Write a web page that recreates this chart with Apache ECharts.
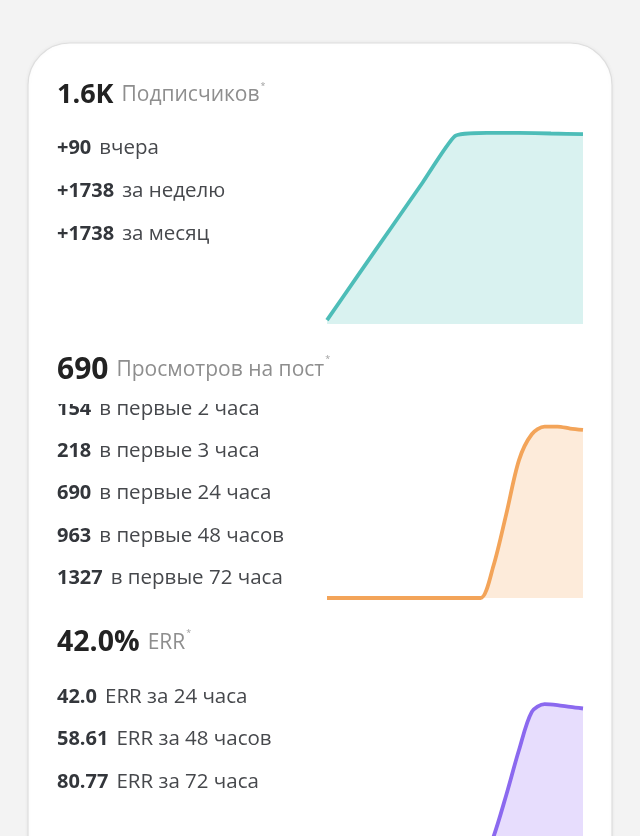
<!DOCTYPE html>
<html><head><meta charset="utf-8">
<script src="https://cdn.jsdelivr.net/npm/echarts@6/dist/echarts.min.js"></script>
<style>html,body{margin:0;padding:0;background:#f3f3f3;overflow:hidden;width:640px;height:836px}#c{width:640px;height:900px}</style>
</head><body><div id="c"></div>
<script>
// ---- data ----
const subsHeaderValue = '1.6K';
const subsHeaderLabel = 'Подписчиков';
const subsNums = ['+90', '+1738', '+1738'];
const subsLabels = ['вчера', 'за неделю', 'за месяц'];
const subsX = ['1', '2', '3', '4', '5', '6', '7', '8', '9'];
const subsSeries = [2, 25.8, 49.5, 73.2, 96.9, 98.5, 98.5, 98.2, 97.9];

const viewsHeaderValue = '690';
const viewsHeaderLabel = 'Просмотров на пост';
const viewsNums = ['154', '218', '690', '963', '1327'];
const viewsLabels = ['в первые 2 часа', 'в первые 3 часа', 'в первые 24 часа', 'в первые 48 часов', 'в первые 72 часа'];
const viewsX = ['1','2','3','4','5','6','7','8','9','10','11','12','13','14','15','16','17','18','19','20','21'];
const viewsSeries = [0, 0, 0, 0, 0, 0, 0, 0, 0, 0, 0, 0, 0, 18, 47, 77.5, 92, 96.3, 96.3, 95.2, 94.4];

const errHeaderValue = '42.0%';
const errHeaderLabel = 'ERR';
const errNums = ['42.0', '58.61', '80.77'];
const errLabels = ['ERR за 24 часа', 'ERR за 48 часов', 'ERR за 72 часа'];
const errX = ['1','2','3','4','5','6','7','8','9','10','11','12','13','14','15','16','17','18','19','20','21'];
const errSeries = [0, 0, 0, 0, 0, 0, 0, 0, 0, 0, 0, 0, 2, 19.4, 44, 70.6, 93, 97.6, 97, 95.9, 95];

// ---- styling ----
const FONT = '"Open Sans", sans-serif';
const rich = {
  big: {fontFamily: FONT, fontWeight: 'bold', fontSize: 27, fill: '#222222'},
  hl: {fontFamily: FONT, fontSize: 21, fill: '#8e8e8e', padding: [0, 0, 0, 8]},
  ast: {fontFamily: FONT, fontSize: 9, fill: '#a0a0a0', verticalAlign: 'top', padding: [0, 0, 12, 1]},
  b: {fontFamily: FONT, fontWeight: 'bold', fontSize: 20, fill: '#33363b'},
  n: {fontFamily: FONT, fontSize: 20.5, fill: '#46484c', padding: [0, 0, 0, 8]}
};
function header(v, l, y, size) {
  const r = Object.assign({}, rich, {big: Object.assign({}, rich.big, {fontSize: size})});
  return {type: 'text', x: 57, y: y, z: 50,
    style: {text: `{big|${v}}{hl|${l}}{ast|*}`, rich: r, verticalAlign: 'middle'}};
}
function rows(nums, labels, y0, step) {
  return nums.map((n, i) => ({type: 'text', x: 57, y: y0 + i * step, z: 50,
    style: {text: `{b|${n}}{n|${labels[i]}}`, rich: rich, verticalAlign: 'middle'}}));
}

const graphics = [
  {type: 'rect', z: -5, shape: {x: 28, y: 43, width: 584, height: 900, r: 42},
   style: {fill: '#ffffff', stroke: '#dedede', lineWidth: 1.2, shadowBlur: 4, shadowColor: 'rgba(0,0,0,0.05)'}},
  header(subsHeaderValue, subsHeaderLabel, 95, 27),
  ...rows(subsNums, subsLabels, 148, 43),
  header(viewsHeaderValue, viewsHeaderLabel, 370, 30),
  ...rows(viewsNums, viewsLabels, 409, 42.3),
  {type: 'rect', z: 60, shape: {x: 40, y: 385, width: 280, height: 19}, style: {fill: '#ffffff'}},
  header(errHeaderValue, errHeaderLabel, 643, 28.5),
  ...rows(errNums, errLabels, 697, 42.5)
];

function grid(top, height) {
  return {left: 327, width: 256, top: top, height: height, outerBoundsMode: 'none', containLabel: false};
}
function xa(i, data) {
  return {type: 'category', gridIndex: i, data: data, boundaryGap: false, show: false};
}
function ya(i) {
  return {type: 'value', gridIndex: i, min: 0, max: 100, show: false};
}
function line(i, data, color, fill, smooth) {
  return {type: 'line', xAxisIndex: i, yAxisIndex: i, data: data, symbol: 'none', smooth: smooth,
    lineStyle: {color: color, width: 3.8}, areaStyle: {color: fill, opacity: 1}, silent: true, z: 5};
}

const chart = echarts.init(document.getElementById('c'), null, {renderer: 'canvas'});
chart.setOption({
  backgroundColor: '#f3f3f3',
  animation: false,
  grid: [grid(130, 194), grid(420, 178), grid(700, 170)],
  xAxis: [xa(0, subsX), xa(1, viewsX), xa(2, errX)],
  yAxis: [ya(0), ya(1), ya(2)],
  series: [
    line(0, subsSeries, '#4dbdb8', '#d9f2f0', 0.15),
    line(1, viewsSeries, '#f3a459', '#fdebda', 0.3),
    line(2, errSeries, '#8b69ef', '#e7ddfd', 0.3)
  ],
  graphic: graphics
});
</script></body></html>
